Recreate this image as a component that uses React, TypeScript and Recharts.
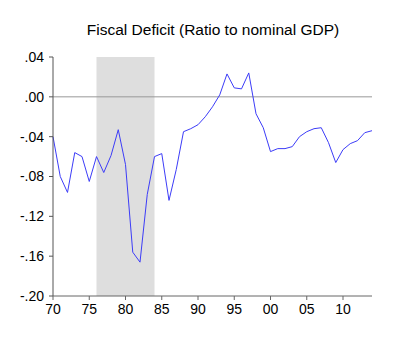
import React from 'react';
import { LineChart, Line, XAxis, YAxis, ReferenceArea, ReferenceLine } from 'recharts';

// annual fiscal deficit, ratio to nominal GDP
const years = [
  1970, 1971, 1972, 1973, 1974, 1975, 1976, 1977, 1978, 1979,
  1980, 1981, 1982, 1983, 1984, 1985, 1986, 1987, 1988, 1989,
  1990, 1991, 1992, 1993, 1994, 1995, 1996, 1997, 1998, 1999,
  2000, 2001, 2002, 2003, 2004, 2005, 2006, 2007, 2008, 2009,
  2010, 2011, 2012, 2013, 2014,
];
const deficit = [
  -0.040, -0.080, -0.096, -0.056, -0.060, -0.085, -0.060, -0.076, -0.059, -0.033,
  -0.068, -0.156, -0.166, -0.098, -0.060, -0.057, -0.104, -0.073, -0.035, -0.032,
  -0.028, -0.020, -0.010, 0.002, 0.023, 0.009, 0.008, 0.024, -0.017, -0.031,
  -0.055, -0.052, -0.052, -0.050, -0.040, -0.035, -0.032, -0.031, -0.046, -0.066,
  -0.053, -0.047, -0.044, -0.036, -0.034,
];
const xTicks = [1970, 1975, 1980, 1985, 1990, 1995, 2000, 2005, 2010];
const yTicks = [-0.2, -0.16, -0.12, -0.08, -0.04, 0, 0.04];
const shaded = [1976, 1984];

const data = years.map((year, i) => ({ year, value: deficit[i] }));

const fmtY = (v: number) => {
  const s = Math.abs(v).toFixed(2).replace(/^0/, '');
  return v < -1e-9 ? '-' + s : s;
};
const fmtX = (v: number) => String(v % 100).padStart(2, '0');

const font = '"Liberation Sans", Arial, sans-serif';

export default function App() {
  return (
    <div style={{ position: 'absolute', left: 0, top: 0, width: 400, height: 339, background: '#fff', fontFamily: font }}>
      <div style={{ position: 'absolute', left: 53, width: 320, top: 21, textAlign: 'center', fontSize: 15.5, color: '#000' }}>
        Fiscal Deficit (Ratio to nominal GDP)
      </div>
      <LineChart width={400} height={339} data={data} margin={{ top: 57, right: 28, bottom: 0, left: 0 }}>
        <ReferenceArea x1={shaded[0]} x2={shaded[1]} fill="#dedede" fillOpacity={1} stroke="none" />
        <ReferenceLine y={0} stroke="#999" />
        <XAxis
          dataKey="year"
          type="number"
          domain={[1970, 2014]}
          ticks={xTicks}
          tickFormatter={fmtX}
          height={43}
          stroke="#666"
          tickSize={4}
          tickMargin={4}
          tick={{ fill: '#000', fontSize: 14, fontFamily: font }}
        />
        <YAxis
          type="number"
          domain={[-0.2, 0.04]}
          ticks={yTicks}
          tickFormatter={fmtY}
          width={53}
          stroke="#555"
          tickSize={4}
          tickMargin={5}
          tick={{ fill: '#000', fontSize: 14, fontFamily: font }}
        />
        <Line dataKey="value" stroke="#3c3cf8" strokeWidth={1} dot={false} isAnimationActive={false} />
      </LineChart>
    </div>
  );
}
